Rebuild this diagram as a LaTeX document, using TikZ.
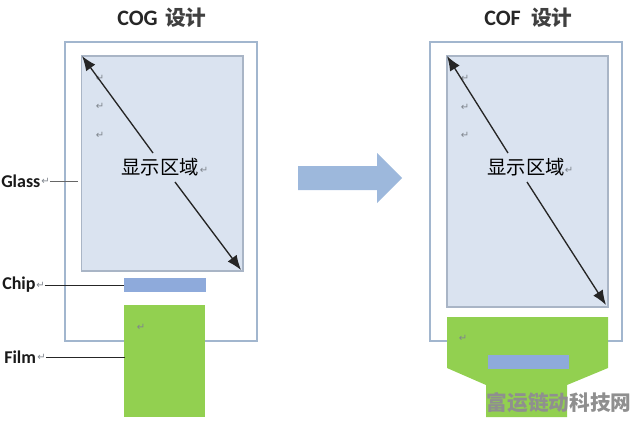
\documentclass[tikz,border=0pt]{standalone}
\usepackage{fontspec}
\setmainfont{Carlito}
\newfontfamily\cjk{Noto Sans CJK SC}
\newfontfamily\sym{DejaVu Sans}
\usetikzlibrary{arrows.meta}
\definecolor{framec}{HTML}{A2B6CE}
\definecolor{screenc}{HTML}{DAE3F0}
\definecolor{screenb}{HTML}{A9B5C6}
\definecolor{filmc}{HTML}{92D050}
\definecolor{chipc}{HTML}{8EAADB}
\definecolor{bigarrow}{HTML}{9DB8DC}
\definecolor{marktext}{HTML}{8F8F8F}
\definecolor{ret}{HTML}{7F858D}
\tikzset{
  x=0.75pt,y=-0.75pt,
  frameb/.style={draw=framec,line width=2.2pt,fill=white},
  screenbox/.style={draw=screenb,line width=0.8pt,fill=screenc},
  title/.style={inner sep=0pt,font=\bfseries\fontsize{16.5}{16.5}\selectfont,text=black!85},
  titlecjk/.style={inner sep=0pt,font=\cjk\bfseries\fontsize{15.5}{16}\selectfont,text=black!75},
  side/.style={inner sep=0pt,font=\bfseries\fontsize{13.5}{13.5}\selectfont,text=black!90},
  area/.style={inner sep=0pt,font=\cjk\fontsize{14.5}{15}\selectfont,text=black},
  retmark/.style={inner sep=0pt,font=\sym\fontsize{7.5}{7.5}\selectfont,text=ret},
  lead/.style={draw=black!85,line width=0.75pt},
  diag/.style={draw=black!85,line width=1pt,-{Latex[length=11pt,width=8.5pt]}},
}
\begin{document}
\begin{tikzpicture}
\useasboundingbox (0,0) rectangle (636,421);
% left design
\node[title,anchor=west] (t1) at (117,18) {COG};
\node[titlecjk,anchor=west] (t1c) at (165,18) {设计};
\draw[frameb] (65,42) rectangle (257,341);
\draw[screenbox] (81.5,56) rectangle (243,271);
\fill[chipc] (124,278) rectangle (206,291.5);
\fill[filmc] (124,305) rectangle (205,417);
\coordinate (chipL) at (124,285);
\coordinate (filmL) at (125,357);
\coordinate (glassR) at (78,181);
\coordinate (a1) at (153,153);
\coordinate (a2) at (82,56);
\coordinate (b1) at (175,182);
\coordinate (b2) at (241,270);
\node[area] (d1) at (160,167) {显示区域};
\node[retmark] at (204,170) {↵};
\node[retmark] at (100,78) {↵};
\node[retmark] at (100,106) {↵};
\node[retmark] at (100,135) {↵};
\node[retmark] at (141,327) {↵};
\draw[diag] (a1) -- (a2);
\draw[diag] (b1) -- (b2);
\node[side,anchor=west] (glass) at (1,181) {Glass};
\node[retmark,anchor=west] (gr) at (41,181) {↵};
\node[side,anchor=west] (chip) at (2,285) {Chip};
\node[retmark,anchor=west] (cr) at (36,285) {↵};
\node[side,anchor=west] (film) at (4,357) {Film};
\node[retmark,anchor=west] (fr) at (37,357) {↵};
\draw[draw=black!60,line width=0.7pt] (gr.east) -- (glassR);
\draw[lead] (cr.east) -- (chipL);
\draw[lead] (fr.east) -- (filmL);
% big arrow
\fill[bigarrow] (298,166) -- (377,166) -- (377,153) -- (402,178) -- (377,203) -- (377,190) -- (298,190) -- cycle;
% right design
\node[title,anchor=west] (t2) at (484,18) {COF};
\node[titlecjk,anchor=west] (t2c) at (531,18) {设计};
\draw[frameb] (430,42) rectangle (622,341);
\draw[screenbox] (447,56) rectangle (608,307);
\fill[filmc] (447,317) -- (608,317) -- (608,368) -- (567,385) -- (567,417) -- (486,417) -- (486,385) -- (447,368) -- cycle;
\fill[chipc] (488,355) rectangle (569,369);
\coordinate (c1) at (508,153);
\coordinate (c2) at (447,56);
\coordinate (e1) at (527,182);
\coordinate (e2) at (606,305);
\node[area] (d2) at (526,167) {显示区域};
\node[retmark] at (569,170) {↵};
\node[retmark] at (465,78) {↵};
\node[retmark] at (465,107) {↵};
\node[retmark] at (465,135) {↵};
\node[retmark] at (463,338) {↵};
\draw[diag] (c1) -- (c2);
\draw[diag] (e1) -- (e2);
% watermark
\node[inner sep=0pt,font=\cjk\bfseries\fontsize{15.5}{16}\selectfont,text=marktext] (wm) at (559,403) {富运链动科技网};
\end{tikzpicture}
\end{document}
